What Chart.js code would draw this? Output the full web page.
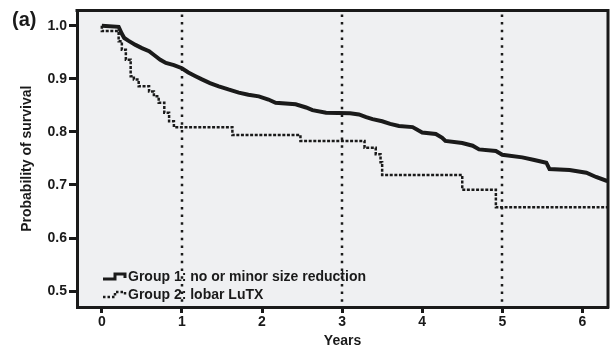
<!DOCTYPE html>
<html>
<head>
<meta charset="utf-8">
<script src="https://cdn.jsdelivr.net/npm/chart.js@4.4.1/dist/chart.umd.min.js"></script>
<style>
  html, body { margin: 0; padding: 0; background: #ffffff; }
  #wrap { position: relative; width: 610px; height: 356px; }
</style>
</head>
<body>
<div id="wrap"><canvas id="c" width="610" height="356"></canvas></div>
<script>
// ---- data ----
const panelLabel = "(a)";
const xTitle = "Years";
const yTitle = "Probability of survival";
const xTicks = [0, 1, 2, 3, 4, 5, 6];
const yTicks = [0.5, 0.6, 0.7, 0.8, 0.9, 1.0];
const refLines = [1, 3, 5];
const seriesNames = ["Group 1: no or minor size reduction", "Group 2: lobar LuTX"];

const g1Years = [0, 0.21, 0.25, 0.28, 0.33, 0.42, 0.5, 0.59, 0.66, 0.73, 0.8, 0.9, 1.0, 1.08, 1.17, 1.25, 1.35, 1.46, 1.58, 1.71, 1.83, 1.96, 2.08, 2.17, 2.42, 2.55, 2.63, 2.8, 3.1, 3.21, 3.3, 3.38, 3.5, 3.6, 3.71, 3.88, 3.95, 4.0, 4.17, 4.25, 4.29, 4.5, 4.63, 4.71, 4.92, 5.0, 5.25, 5.4, 5.55, 5.59, 5.84, 6.05, 6.17, 6.3, 6.4];
const g1Surv  = [1.0, 0.998, 0.985, 0.977, 0.972, 0.964, 0.958, 0.952, 0.944, 0.936, 0.93, 0.926, 0.92, 0.912, 0.905, 0.899, 0.892, 0.886, 0.88, 0.874, 0.87, 0.867, 0.861, 0.855, 0.852, 0.846, 0.841, 0.836, 0.835, 0.833, 0.828, 0.824, 0.82, 0.815, 0.811, 0.809, 0.803, 0.799, 0.796, 0.789, 0.783, 0.779, 0.774, 0.767, 0.764, 0.757, 0.752, 0.747, 0.742, 0.73, 0.728, 0.723, 0.715, 0.708, 0.706];

const g2Years = [0, 0.21, 0.25, 0.3, 0.36, 0.4, 0.46, 0.59, 0.65, 0.71, 0.78, 0.84, 0.9, 1.63, 2.48, 3.28, 3.42, 3.48, 3.5, 4.5, 4.92, 5.44, 6.4];
const g2Surv  = [1.0, 0.99, 0.971, 0.955, 0.936, 0.905, 0.899, 0.886, 0.876, 0.867, 0.855, 0.836, 0.82, 0.809, 0.794, 0.783, 0.77, 0.758, 0.743, 0.719, 0.691, 0.658, 0.658];

// ---- styling ----
const FONT = "'Liberation Sans', Arial, Helvetica, sans-serif";
const INK = '#1a1a1a';
const PLOT_BG = '#eff0f2';

const toPts = (xs, ys) => xs.map((x, i) => ({ x: x, y: ys[i] }));

const bgPlugin = {
  id: 'plotBg',
  beforeDraw(chart) {
    const { ctx, chartArea: a } = chart;
    ctx.save();
    ctx.fillStyle = PLOT_BG;
    ctx.fillRect(a.left, a.top, a.right - a.left, a.bottom - a.top);
    ctx.restore();
  },
  beforeDatasetsDraw(chart) {
    const { ctx, chartArea: a, scales } = chart;
    ctx.save();
    ctx.strokeStyle = INK;
    ctx.lineWidth = 2.5;
    ctx.setLineDash([2.5, 5.2]);
    refLines.forEach(v => {
      const px = Math.round(scales.x.getPixelForValue(v));
      ctx.beginPath();
      ctx.moveTo(px, a.top + 4);
      ctx.lineTo(px, a.bottom);
      ctx.stroke();
    });
    ctx.restore();
  },
  afterDraw(chart) {
    const { ctx, chartArea: a } = chart;
    ctx.save();
    // frame top and right
    ctx.strokeStyle = INK;
    ctx.lineWidth = 3;
    ctx.beginPath();
    ctx.moveTo(a.left - 1.5, a.top);
    ctx.lineTo(a.right, a.top);
    ctx.lineTo(a.right, a.bottom + 1.5);
    ctx.stroke();

    // legend inside plot
    const ix = a.left + 26;
    const tx = a.left + 51;
    const y1 = a.bottom - 30;
    const y2 = a.bottom - 12;
    ctx.lineCap = 'butt';
    ctx.setLineDash([]);
    ctx.lineWidth = 3;
    ctx.beginPath();
    ctx.moveTo(ix, y1 + 2);
    ctx.lineTo(ix + 12, y1 + 2);
    ctx.lineTo(ix + 12, y1 - 3);
    ctx.lineTo(ix + 22, y1 - 3);
    ctx.lineTo(ix + 22, y1 + 1);
    ctx.stroke();
    ctx.setLineDash([2.5, 2]);
    ctx.lineWidth = 2.5;
    ctx.beginPath();
    ctx.moveTo(ix, y2 + 2);
    ctx.lineTo(ix + 12, y2 + 2);
    ctx.lineTo(ix + 12, y2 - 3);
    ctx.lineTo(ix + 22, y2 - 3);
    ctx.lineTo(ix + 22, y2 + 1);
    ctx.stroke();

    ctx.setLineDash([]);
    ctx.fillStyle = INK;
    ctx.font = "bold 14px " + FONT;
    ctx.textBaseline = 'middle';
    ctx.textAlign = 'left';
    ctx.fillText(seriesNames[0], tx, y1);
    ctx.fillText(seriesNames[1], tx, y2);

    // panel label
    ctx.font = "bold 20px " + FONT;
    ctx.fillText(panelLabel, 12, 20);
    ctx.restore();
  }
};

const ctx = document.getElementById('c').getContext('2d');
new Chart(ctx, {
  type: 'line',
  data: {
    datasets: [
      {
        label: seriesNames[0],
        data: toPts(g1Years, g1Surv),
        borderColor: INK,
        borderWidth: 4,
        tension: 0,
        pointRadius: 0,
        fill: false
      },
      {
        label: seriesNames[1],
        data: toPts(g2Years, g2Surv),
        stepped: 'after',
        borderColor: INK,
        borderWidth: 2.5,
        borderDash: [3, 1.6],
        pointRadius: 0,
        fill: false
      }
    ]
  },
  options: {
    responsive: false,
    animation: false,
    devicePixelRatio: 1,
    layout: { padding: { top: 9, right: 2, left: 0, bottom: 0 } },
    plugins: {
      legend: { display: false },
      tooltip: { enabled: false },
      title: { display: false }
    },
    scales: {
      x: {
        type: 'linear',
        min: -0.31,
        max: 6.32,
        afterBuildTicks(scale) { scale.ticks = xTicks.map(v => ({ value: v })); },
        afterFit(scale) { scale.height = 49; },
        ticks: {
          color: INK,
          font: { family: FONT, size: 14, weight: 'bold' },
          padding: 1,
          maxRotation: 0,
          callback: v => String(v)
        },
        grid: {
          display: true,
          drawOnChartArea: false,
          drawTicks: true,
          tickLength: 6,
          tickWidth: 3,
          tickColor: INK,
          color: INK
        },
        border: { display: true, color: INK, width: 3 },
        title: {
          display: true,
          text: xTitle,
          color: INK,
          font: { family: FONT, size: 14, weight: 'bold' },
          padding: { top: 0, bottom: 6 }
        }
      },
      y: {
        type: 'linear',
        min: 0.47,
        max: 1.029,
        afterBuildTicks(scale) { scale.ticks = yTicks.map(v => ({ value: v })); },
        afterFit(scale) { scale.width = 77; },
        ticks: {
          color: INK,
          font: { family: FONT, size: 14, weight: 'bold' },
          padding: 2,
          callback: v => Number(v).toFixed(1)
        },
        grid: {
          display: true,
          drawOnChartArea: false,
          drawTicks: true,
          tickLength: 8,
          tickWidth: 3,
          tickColor: INK,
          color: INK
        },
        border: { display: true, color: INK, width: 3 },
        title: {
          display: true,
          text: yTitle,
          color: INK,
          font: { family: FONT, size: 14, weight: 'bold' },
          padding: { top: 19, bottom: 0 }
        }
      }
    }
  },
  plugins: [bgPlugin]
});
</script>
</body>
</html>
